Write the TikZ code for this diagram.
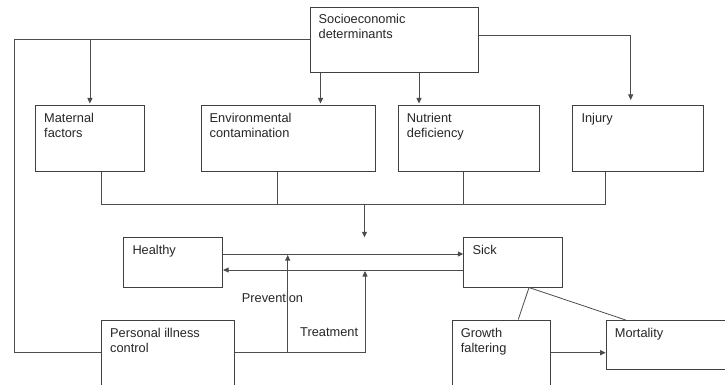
\documentclass[tikz,border=0pt]{standalone}
\usepackage{fontspec}
\setmainfont{Liberation Sans}
\usetikzlibrary{arrows.meta}
\begin{document}
\begin{tikzpicture}[x=1pt,y=-1pt,
  box/.style={draw=black!75, line width=0.8pt, inner sep=0pt, anchor=north west},
  txt/.style={font=\fontsize{12.8}{15}\selectfont, anchor=base west, inner sep=0pt, text=black!85},
  conn/.style={draw=black!70, line width=0.8pt},
  arr/.style={conn, -{Triangle[length=5.5pt,width=5pt]}}]
\clip (0,0) rectangle (725,385);
\fill[white] (0,0) rectangle (725,385);
% boxes
\node[box, minimum width=168pt, minimum height=65pt] (socio) at (310,7) {};
\node[box, minimum width=109pt, minimum height=66pt] (mat) at (35,105) {};
\node[box, minimum width=174pt, minimum height=66pt] (env) at (200.5,105) {};
\node[box, minimum width=141.3pt, minimum height=66pt] (nut) at (397.7,105) {};
\node[box, minimum width=131pt, minimum height=66pt] (inj) at (572.3,105) {};
\node[box, minimum width=99pt, minimum height=49.4pt] (healthy) at (123.3,237.3) {};
\node[box, minimum width=98.4pt, minimum height=49.4pt] (sick) at (463.3,237.3) {};
\node[box, minimum width=132.7pt, minimum height=90pt] (pers) at (101,320) {};
\node[box, minimum width=98.3pt, minimum height=90pt] (grow) at (451.7,319.5) {};
\node[box, minimum width=140pt, minimum height=49pt] (mort) at (605.7,320) {};
% texts
\node[txt] (socio-t) at ([shift={(8.5,17)}]socio.north west) {\begin{tabular}[t]{@{}l@{}}Socioeconomic\\determinants\end{tabular}};
\node[txt] (mat-t) at ([shift={(9,17)}]mat.north west) {\begin{tabular}[t]{@{}l@{}}Maternal\\factors\end{tabular}};
\node[txt] (env-t) at ([shift={(9,17)}]env.north west) {\begin{tabular}[t]{@{}l@{}}Environmental\\contamination\end{tabular}};
\node[txt] (nut-t) at ([shift={(9,17)}]nut.north west) {\begin{tabular}[t]{@{}l@{}}Nutrient\\deficiency\end{tabular}};
\node[txt] (inj-t) at ([shift={(9,17)}]inj.north west) {Injury};
\node[txt] (healthy-t) at ([shift={(9,17)}]healthy.north west) {Healthy};
\node[txt] (sick-t) at ([shift={(9,17)}]sick.north west) {Sick};
\node[txt] (pers-t) at ([shift={(9,17)}]pers.north west) {\begin{tabular}[t]{@{}l@{}}Personal illness\\control\end{tabular}};
\node[txt] (grow-t) at ([shift={(9,17.5)}]grow.north west) {\begin{tabular}[t]{@{}l@{}}Growth\\faltering\end{tabular}};
\node[txt] (mort-t) at ([shift={(9,17)}]mort.north west) {Mortality};
\node[txt] (prev) at (241.7,302) {Prevention};
\node[txt] (treat) at (300,336.7) {Treatment};
% connectors from socioeconomic
\draw[conn] (socio.west |- 0,39) -- (14,39) -- (14,352.5) -- (pers.west |- 0,352.5);
\draw[arr, shorten >=1.5pt] (mat.north |- 0,39) -- (mat.north);
\draw[arr, shorten >=1.5pt] (socio.south -| 320.5,0) -- (env.north -| 320.5,0);
\draw[arr, shorten >=1.5pt] (socio.south -| 419,0) -- (nut.north -| 419,0);
\draw[arr, shorten >=5pt] (socio.east |- 0,35) -- (630.7,35) -- (inj.north -| 630.7,0);
% collector
\coordinate (join) at (364.5,204);
\draw[conn] (mat.south -| 101.7,0) -- (101.7,204) -- (605.7,204) -- (inj.south -| 605.7,0);
\draw[conn] (env.south -| 277.3,0) -- (277.3,204);
\draw[conn] (nut.south -| 463.3,0) -- (463.3,204);
\draw[arr] (join) -- (join |- healthy.north);
% healthy / sick
\draw[arr] (healthy.east |- 0,254) -- (sick.west |- 0,254);
\draw[arr] (sick.west |- 0,270) -- (healthy.east |- 0,270);
% personal illness control
\coordinate (pv) at (287.7,352.5);
\coordinate (tr) at (365,352.5);
\draw[conn] (pers.east |- tr) -- (tr);
\draw[arr] (pv) -- (287.7,255);
\draw[arr] (tr) -- (365,271);
% outcomes
\coordinate (sb) at (sick.south -| 529,0);
\draw[conn] (sb) -- (grow.north -| 518.3,0);
\draw[conn] (sb) -- (mort.north -| 625.7,0);
\draw[arr] (grow.east |- 0,352.7) -- (mort.west |- 0,352.7);
\end{tikzpicture}
\end{document}
